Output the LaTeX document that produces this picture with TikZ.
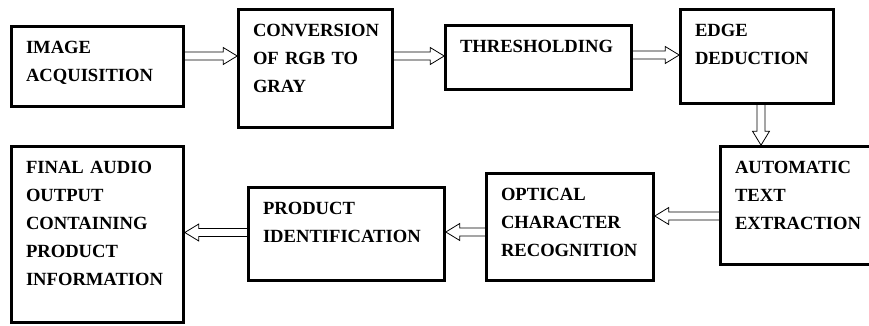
\documentclass[tikz,border=0pt]{standalone}
\usepackage{fontspec}
\setmainfont{Liberation Serif}
\usetikzlibrary{calc}

\begin{document}
\begin{tikzpicture}[
  x=1pt,
  y=-1pt,
  every node/.style={font=\bfseries\fontsize{18.6}{28}\selectfont},
  blk/.style 2 args={
    draw,
    line width=2.6pt,
    align=left,
    inner xsep=14.5pt,
    inner ysep=15pt,
    text width=#1-29pt,
    text height=12.3pt,
    text depth=#2-42.3pt
  },
  hollow/.style={
    line width=0.8pt,
    line join=miter,
    to path={
      let \p1=(\tikztostart), \p2=(\tikztotarget),
          \n1={atan2(\y2-\y1,\x2-\x1)}, \n2={veclen(\x2-\x1,\y2-\y1)}
      in {[shift={(\p1)}, rotate=\n1]
        (0pt,-4pt) -- ({\n2*1pt-14pt},-4pt) -- ({\n2*1pt-14pt},-8.5pt)
        -- ({\n2*1pt},0pt) -- ({\n2*1pt-14pt},8.5pt) -- ({\n2*1pt-14pt},4pt)
        -- (0pt,4pt)}
    }
  }
]
\useasboundingbox (0,0) rectangle (869,326);

\node[blk={172pt}{80pt}] (img) at (97.5,66.5) {IMAGE\\ACQUISITION};
\node[blk={154pt}{118pt}] (conv) at (315.5,68.5) {CONVERSION\\OF RGB TO\\GRAY};
\node[blk={186pt}{64pt}] (thr) at (538.5,57.5) {THRESHOLDING};
\node[blk={153pt}{94pt}] (edge) at (757,56.5) {EDGE\\DEDUCTION};
\node[blk={162pt}{118pt}] (auto) at (801.5,205.5) {AUTOMATIC\\TEXT\\EXTRACTION};
\node[blk={167pt}{107pt}] (ocr) at (570,227) {OPTICAL\\CHARACTER\\RECOGNITION};
\node[blk={196pt}{93pt}] (prod) at (346.5,234) {PRODUCT\\IDENTIFICATION};
\node[blk={172pt}{176pt}] (final) at (97.5,234.5) {FINAL AUDIO\\OUTPUT\\CONTAINING\\PRODUCT\\INFORMATION};

\draw[hollow] (img.east |- 0,56) to (conv.west |- 0,56);
\draw[hollow] (conv.east |- 0,56) to (thr.west |- 0,56);
\draw[hollow] (thr.east |- 0,55) to (edge.west |- 0,55);
\draw[hollow] ([xshift=4pt]edge.south) to ([xshift=4pt]edge.south |- auto.north);
\draw[hollow] (auto.west |- 0,216) to (ocr.east |- 0,216);
\draw[hollow] (ocr.west |- 0,232) to (prod.east |- 0,232);
\draw[hollow] (prod.west |- 0,232.5) to (final.east |- 0,232.5);
\end{tikzpicture}
\end{document}
